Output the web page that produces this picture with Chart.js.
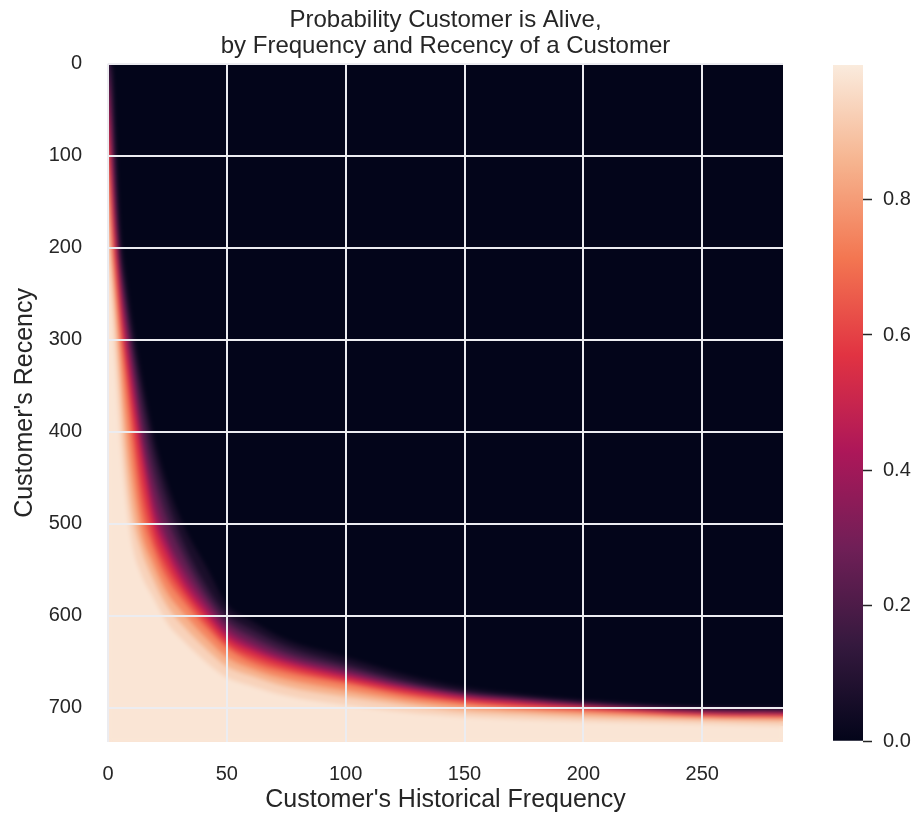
<!DOCTYPE html>
<html lang="en">
  <head>
    <meta charset="UTF-8" />
    <title>Probability Customer is Alive</title>
    <script src="https://cdn.jsdelivr.net/npm/chart.js"></script>
    <style>
      body { margin: 0; background: #ffffff; }
      .Wrap { position: relative; width: 920px; height: 817px; }
      #heatChart { position: absolute; left: 0; top: 0; }
      #colorBar { position: absolute; left: 800px; top: 0; }
    </style>
  </head>
  <body>
    <div class="Wrap">
      <canvas id="heatChart" width="830" height="817"></canvas>
      <canvas id="colorBar" width="120" height="817"></canvas>
    </div>
    <script>
      // customer's historical frequency (x) where the contours were read
      const frequency = [0, 1, 2, 3, 5, 7, 10, 14, 19, 25, 32, 42, 50, 60, 75, 100, 125, 150, 175, 200, 250, 284];

      // recency (y) at which P(alive) reaches each level
      const recency03 = [0, 0, 10, 70, 175, 222, 278, 338, 402, 457, 503, 550, 588, 605, 626, 645, 664, 678, 686, 692, 699, 700];
      const recency10 = [0, 0, 30, 100, 200, 240, 295, 355, 420, 475, 522, 570, 598, 614, 633, 652, 670, 683, 689, 694, 701, 702];
      const recency20 = [4, 30, 70, 130, 212, 255, 310, 378, 443, 495, 536, 580, 606, 622, 640, 657, 673, 684, 690, 695, 702, 703];
      const recency30 = [8, 60, 110, 160, 225, 270, 325, 400, 465, 515, 550, 588, 613, 629, 645, 661, 676, 686, 692, 697, 704, 705];
      const recency40 = [14, 80, 128, 175, 238, 285, 340, 412, 483, 525, 560, 595, 619, 634, 649, 664, 678, 688, 694, 698, 705, 706];
      const recency50 = [20, 100, 150, 190, 250, 300, 358, 425, 495, 535, 568, 601, 624, 638, 652, 667, 680, 690, 695, 699, 706, 707];
      const recency60 = [50, 120, 175, 210, 268, 315, 380, 455, 512, 548, 576, 608, 630, 644, 657, 671, 684, 693, 698, 701, 708, 709];
      const recency70 = [80, 140, 200, 228, 285, 333, 403, 482, 526, 560, 585, 615, 635, 650, 662, 674, 687, 695, 700, 703, 709, 710];
      const recency80 = [110, 170, 220, 252, 315, 375, 445, 508, 543, 575, 598, 626, 645, 657, 669, 681, 692, 699, 703, 706, 711, 712];
      const recency90 = [150, 200, 238, 272, 345, 415, 485, 528, 560, 590, 612, 638, 655, 665, 677, 688, 697, 704, 707, 710, 713, 715];
      const recency97 = [200, 240, 280, 320, 400, 460, 520, 555, 580, 608, 628, 652, 667, 676, 687, 697, 705, 710, 713, 715, 718, 720];

      const levels = [0.03, 0.1, 0.2, 0.3, 0.4, 0.5, 0.6, 0.7, 0.8, 0.9, 0.97];
      const contours = [recency03, recency10, recency20, recency30, recency40, recency50, recency60, recency70, recency80, recency90, recency97];

      const xTicks = [0, 50, 100, 150, 200, 250];
      const yTicks = [0, 100, 200, 300, 400, 500, 600, 700];
      const colorbarTicks = [0, 0.2, 0.4, 0.6, 0.8];
      const VMAX = 0.999;

      const X_MAX = 284;
      const Y_MAX = 737.5;
      const TEXT = "#262626";
      const FONT = "'Liberation Sans', Arial, sans-serif";

      // seaborn "rocket" colormap
      const rocketStops = [
        [0.0, [3, 5, 26]],
        [0.143, [53, 25, 62]],
        [0.286, [112, 31, 87]],
        [0.429, [173, 23, 89]],
        [0.571, [225, 51, 66]],
        [0.714, [243, 118, 81]],
        [0.857, [246, 180, 143]],
        [1.0, [250, 235, 221]],
      ];

      function rocket(t) {
        t = Math.max(0, Math.min(1, t));
        for (let i = 1; i < rocketStops.length; i++) {
          const [t1, c1] = rocketStops[i];
          const [t0, c0] = rocketStops[i - 1];
          if (t <= t1) {
            const k = (t - t0) / (t1 - t0);
            const c = c0.map((v, j) => Math.round(v + (c1[j] - v) * k));
            return `rgb(${c[0]}, ${c[1]}, ${c[2]})`;
          }
        }
        return "rgb(250, 235, 221)";
      }

      const darkBackground = {
        id: "darkBackground",
        beforeDatasetsDraw(chart) {
          const { ctx, chartArea: a } = chart;
          ctx.save();
          ctx.fillStyle = rocket(0);
          ctx.fillRect(a.left, a.top, a.right - a.left, a.bottom - a.top);
          ctx.restore();
        },
      };

      // soften the steps between contour bands (grid is drawn afterwards)
      const smoothHeat = {
        id: "smoothHeat",
        afterDatasetsDraw(chart) {
          const { ctx, chartArea: a, canvas } = chart;
          const r = chart.currentDevicePixelRatio || 1;
          const w = Math.round((a.right - a.left) * r);
          const h = Math.round((a.bottom - a.top) * r);
          const off = document.createElement("canvas");
          off.width = w;
          off.height = h;
          off.getContext("2d").drawImage(canvas, a.left * r, a.top * r, w, h, 0, 0, w, h);
          ctx.save();
          ctx.beginPath();
          ctx.rect(a.left, a.top, a.right - a.left, a.bottom - a.top);
          ctx.clip();
          ctx.filter = "blur(2px)";
          ctx.drawImage(off, a.left, a.top, w / r, h / r);
          ctx.restore();
        },
      };

      // each contour is filled down to the bottom; lighter levels are drawn on top
      const heatSets = contours.map((rec, i) => {
        const next = i + 1 < levels.length ? levels[i + 1] : VMAX;
        return {
          label: "p" + levels[i],
          data: frequency.map((f, j) => ({ x: f, y: rec[j] })),
          fill: { value: Y_MAX },
          backgroundColor: rocket((levels[i] + next) / 2 / VMAX),
          borderColor: "transparent",
          borderWidth: 0,
          pointRadius: 0,
          cubicInterpolationMode: "monotone",
          order: levels.length - i,
        };
      });

      new Chart(document.getElementById("heatChart"), {
        type: "line",
        data: { datasets: heatSets },
        plugins: [darkBackground, smoothHeat],
        options: {
          responsive: false,
          animation: false,
          layout: { padding: { left: 0, right: 47, top: 0, bottom: 0 } },
          plugins: {
            legend: { display: false },
            tooltip: { enabled: false },
            title: {
              display: true,
              fullSize: false,
              text: ["Probability Customer is Alive,", "by Frequency and Recency of a Customer"],
              color: TEXT,
              font: { family: FONT, size: 24, weight: "normal", lineHeight: 1.08 },
              padding: { top: 7, bottom: 5 },
            },
          },
          scales: {
            x: {
              type: "linear",
              min: 0,
              max: X_MAX,
              afterFit: (s) => { s.height = 75; },
              afterBuildTicks: (s) => { s.ticks = xTicks.map((v) => ({ value: v })); },
              ticks: { color: TEXT, font: { family: FONT, size: 20 }, padding: 20 },
              grid: { color: "#ececf0", lineWidth: 2, drawTicks: false, z: 1 },
              border: { display: false },
              title: {
                display: true,
                text: "Customer's Historical Frequency",
                color: TEXT,
                font: { family: FONT, size: 25 },
                padding: { top: 0, bottom: 2 },
              },
            },
            y: {
              type: "linear",
              reverse: true,
              min: 0,
              max: Y_MAX,
              afterFit: (s) => { s.width = 108; },
              afterBuildTicks: (s) => { s.ticks = yTicks.map((v) => ({ value: v })); },
              ticks: { color: TEXT, font: { family: FONT, size: 20 }, padding: 26 },
              grid: { color: "#ececf0", lineWidth: 2, drawTicks: false, z: 1 },
              border: { display: false },
              title: {
                display: true,
                text: "Customer's Recency",
                color: TEXT,
                font: { family: FONT, size: 25 },
                padding: { top: 10, bottom: 0 },
              },
            },
          },
        },
      });

      // colorbar
      new Chart(document.getElementById("colorBar"), {
        type: "bar",
        data: {
          labels: [""],
          datasets: [
            {
              data: [[0, VMAX]],
              borderWidth: 0,
              barPercentage: 1,
              categoryPercentage: 1,
              backgroundColor: (ctx) => {
                const area = ctx.chart.chartArea;
                if (!area) return rocket(0.5);
                const g = ctx.chart.ctx.createLinearGradient(0, area.bottom, 0, area.top);
                rocketStops.forEach(([t]) => g.addColorStop(t, rocket(t)));
                return g;
              },
            },
          ],
        },
        options: {
          responsive: false,
          animation: false,
          layout: { padding: { left: 33, right: 0, top: 65, bottom: 76 } },
          plugins: { legend: { display: false }, tooltip: { enabled: false } },
          scales: {
            x: { display: false },
            y: {
              position: "right",
              min: 0,
              max: VMAX,
              afterFit: (s) => { s.width = 57; },
              afterBuildTicks: (s) => { s.ticks = colorbarTicks.map((v) => ({ value: v })); },
              ticks: {
                color: TEXT,
                font: { family: FONT, size: 20 },
                padding: 11,
                callback: (v) => Number(v).toFixed(1),
              },
              grid: { drawOnChartArea: false, drawTicks: true, tickLength: 9, tickColor: TEXT, tickWidth: 1.5 },
              border: { display: false },
            },
          },
        },
      });
    </script>
  </body>
</html>
